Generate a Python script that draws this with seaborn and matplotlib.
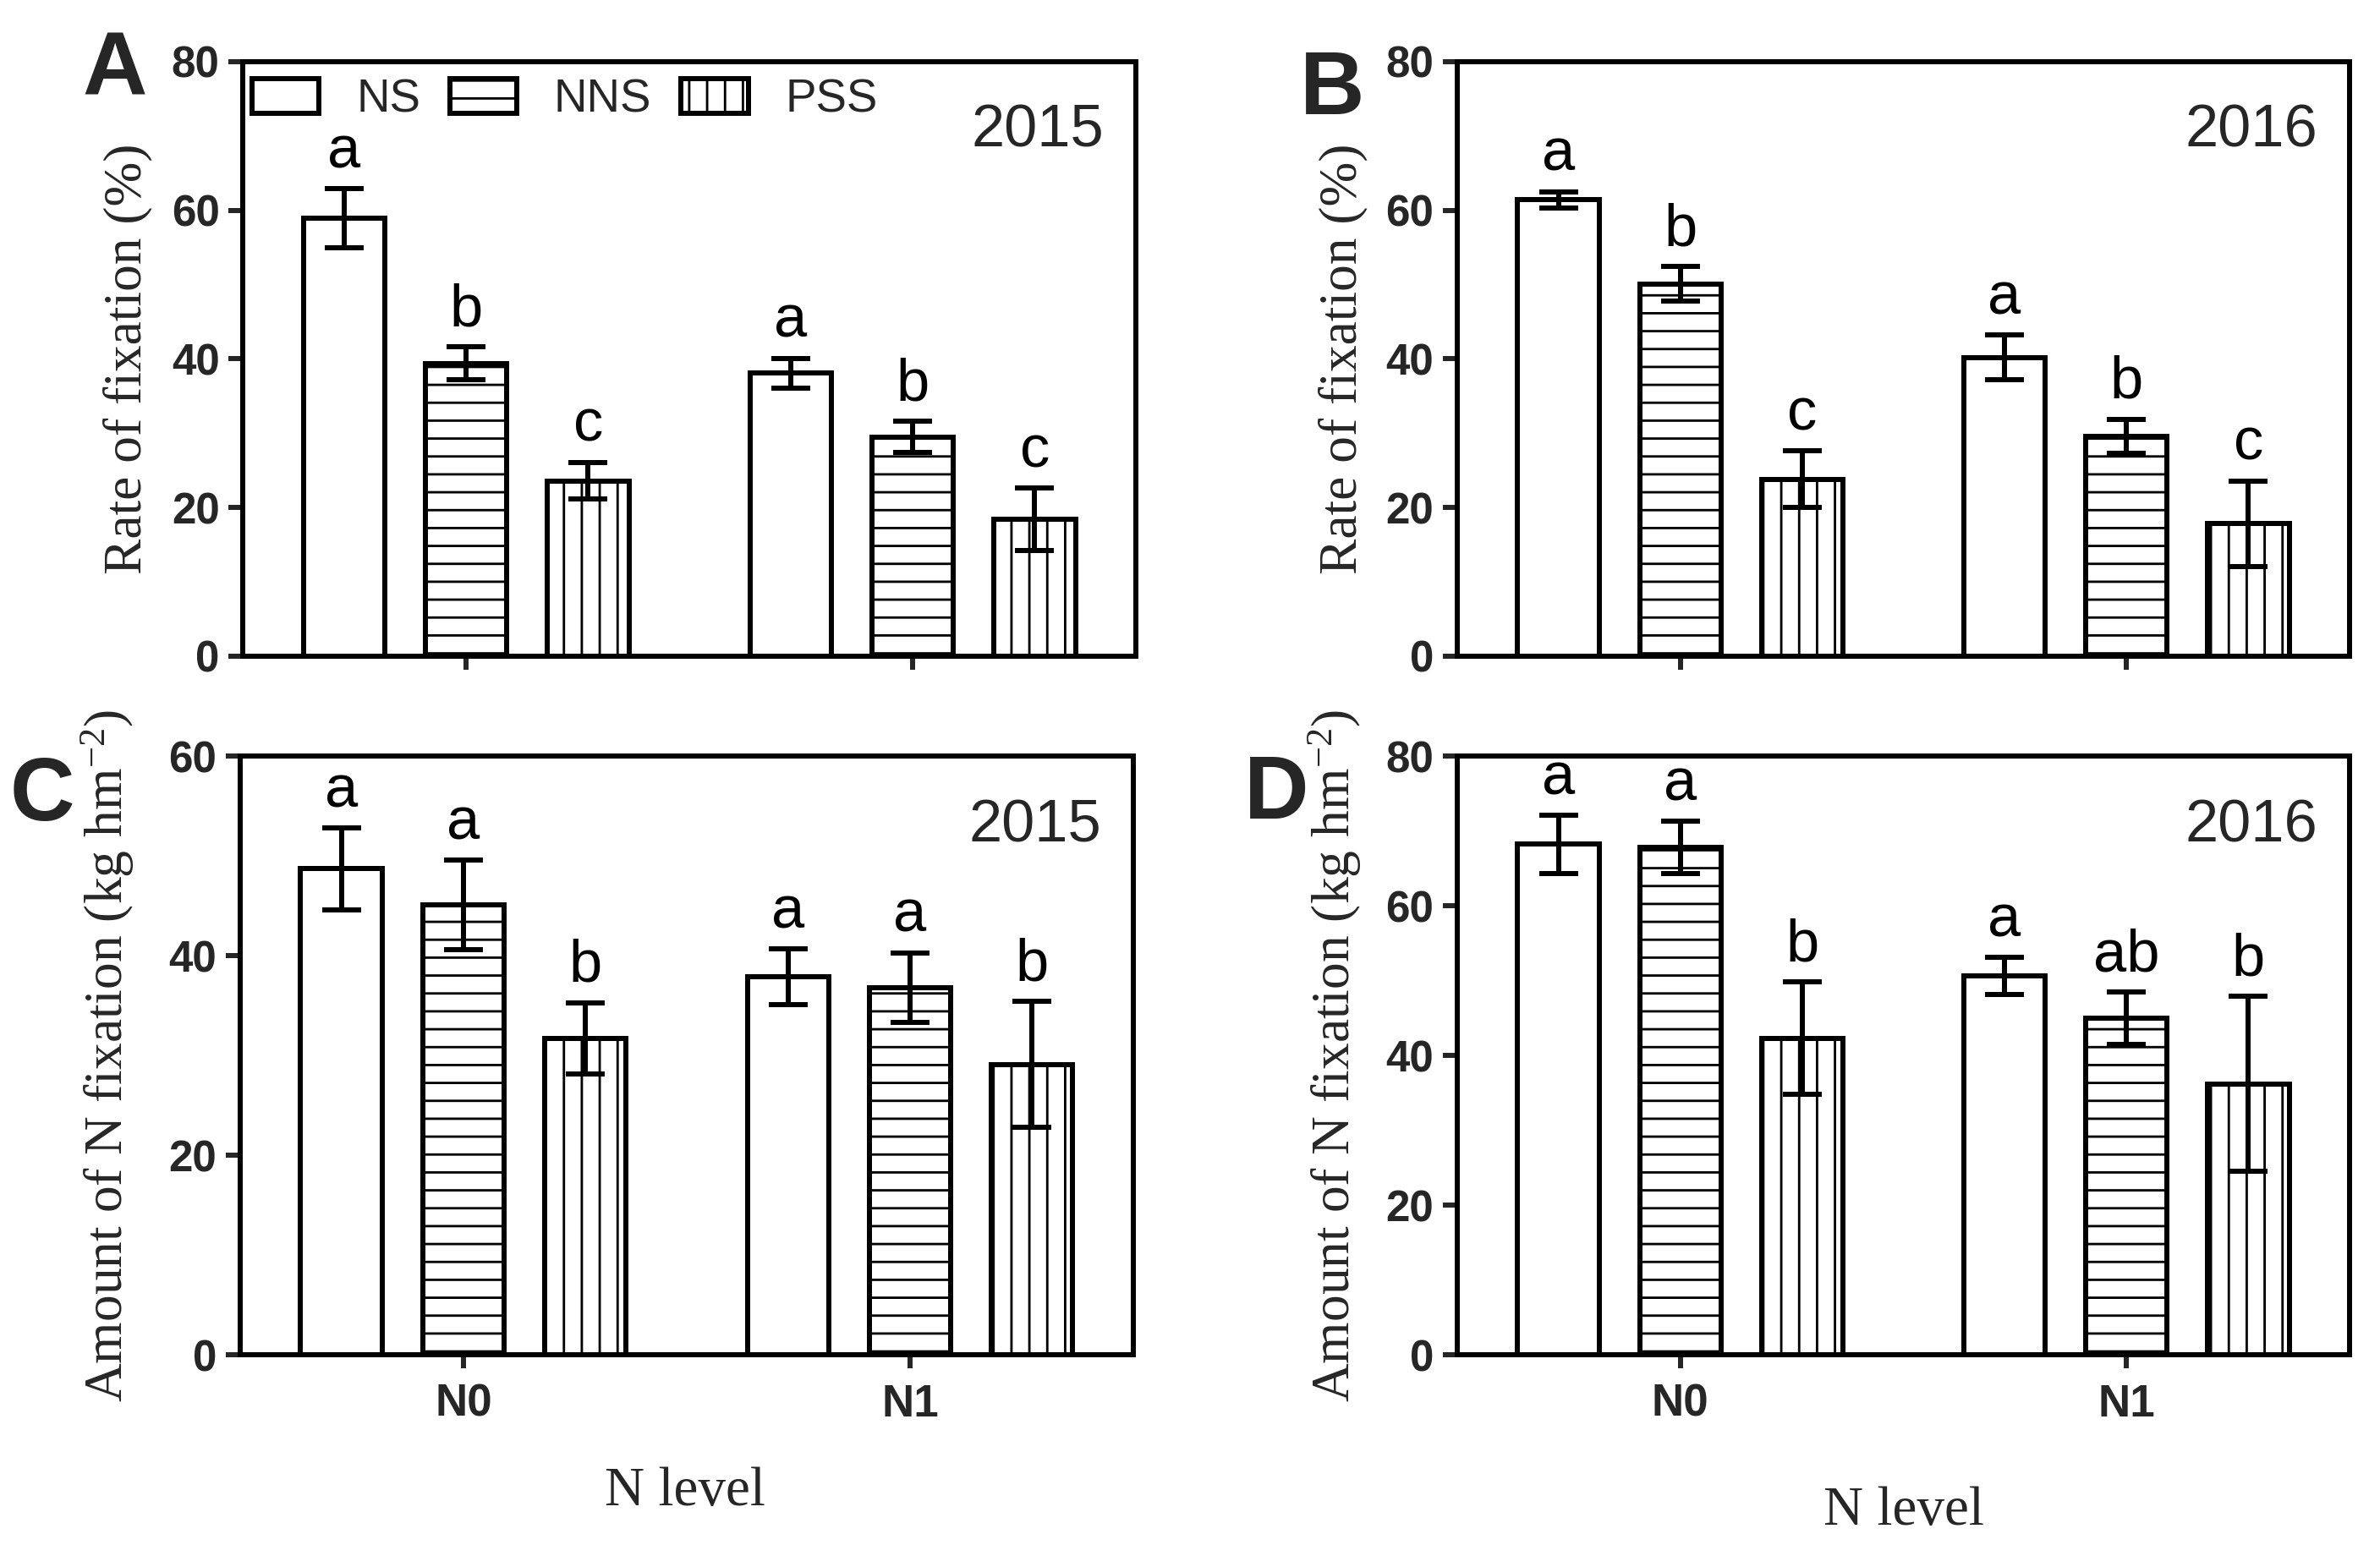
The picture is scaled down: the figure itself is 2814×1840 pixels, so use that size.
import matplotlib
matplotlib.use("Agg")
import matplotlib.pyplot as plt
import seaborn as sns
import pandas as pd
from matplotlib.patches import Patch
from matplotlib.container import BarContainer

# ---------------- data ----------------
n_levels = ["N0", "N1"]
treatments = ["NS", "NNS", "PSS"]
hatches = ["", "-", "|"]

# order inside each list: N0-NS, N0-NNS, N0-PSS, N1-NS, N1-NNS, N1-PSS
rate_2015 = [58.9, 39.4, 23.6, 38.1, 29.5, 18.4]
rate_2015_err = [4.0, 2.2, 2.5, 2.0, 2.1, 4.2]
rate_2015_sig = ["a", "b", "c", "a", "b", "c"]

rate_2016 = [61.4, 50.1, 23.8, 40.2, 29.6, 17.8]
rate_2016_err = [1.1, 2.3, 3.8, 3.0, 2.3, 5.8]
rate_2016_sig = ["a", "b", "c", "a", "b", "c"]

amount_2015 = [48.7, 45.1, 31.7, 37.9, 36.8, 29.1]
amount_2015_err = [4.1, 4.5, 3.6, 2.8, 3.5, 6.3]
amount_2015_sig = ["a", "a", "b", "a", "a", "b"]

amount_2016 = [68.2, 67.8, 42.3, 50.6, 45.0, 36.2]
amount_2016_err = [3.9, 3.5, 7.5, 2.5, 3.5, 11.7]
amount_2016_sig = ["a", "a", "b", "a", "ab", "b"]

panels = [
    dict(letter="A", year="2015", vals=rate_2015, errs=rate_2015_err, sig=rate_2015_sig,
         ylabel="Rate of fixation (%)", ymax=80, xlabels=False),
    dict(letter="B", year="2016", vals=rate_2016, errs=rate_2016_err, sig=rate_2016_sig,
         ylabel="Rate of fixation (%)", ymax=80, xlabels=False),
    dict(letter="C", year="2015", vals=amount_2015, errs=amount_2015_err, sig=amount_2015_sig,
         ylabel="Amount of N fixation (kg hm$^{-2}$)", ymax=60, xlabels=True),
    dict(letter="D", year="2016", vals=amount_2016, errs=amount_2016_err, sig=amount_2016_sig,
         ylabel="Amount of N fixation (kg hm$^{-2}$)", ymax=80, xlabels=True),
]

# ---------------- style ----------------
sns.set_style("white")
plt.rcParams["font.family"] = ["Liberation Sans", "DejaVu Sans"]
plt.rcParams["mathtext.fontset"] = "custom"
plt.rcParams["mathtext.rm"] = "Liberation Serif"
plt.rcParams["mathtext.default"] = "regular"
plt.rcParams["hatch.linewidth"] = 1.6
plt.rcParams["hatch.color"] = "black"

DPI = 127
fig = plt.figure(figsize=(2814 / DPI, 1840 / DPI), dpi=DPI)
fig.patch.set_facecolor("white")

positions = [
    [0.1020, 0.5783, 0.3753, 0.3821],
    [0.6123, 0.5783, 0.3749, 0.3821],
    [0.1009, 0.1293, 0.3753, 0.3848],
    [0.6123, 0.1293, 0.3749, 0.3848],
]
letter_pos = [(0.0345, 0.9386), (0.5462, 0.9266), (0.004, 0.4730), (0.5227, 0.4740)]
ylabel_x = [-0.101, -0.100, -0.116, -0.105]

LW = 3.4
serif = ["Liberation Serif", "DejaVu Serif"]

for i, p in enumerate(panels):
    ax = fig.add_axes(positions[i])
    df = pd.DataFrame({
        "N level": [n for n in n_levels for _ in treatments],
        "Treatment": treatments * len(n_levels),
        "value": p["vals"],
        "err": p["errs"],
        "sig": p["sig"],
    })
    sns.barplot(data=df, x="N level", y="value", hue="Treatment",
                order=n_levels, hue_order=treatments,
                palette=["white"] * 3, edgecolor="black", linewidth=LW,
                width=0.82, gap=0.333, errorbar=None, legend=False,
                saturation=1, ax=ax)

    bar_conts = [c for c in ax.containers if isinstance(c, BarContainer)]
    for h_i, cont in enumerate(bar_conts):
        for n_i, bar in enumerate(cont.patches):
            bar.set_hatch(hatches[h_i])
            bar.set_edgecolor("black")
            bar.set_facecolor("white")
            row = df[(df["N level"] == n_levels[n_i]) & (df["Treatment"] == treatments[h_i])].iloc[0]
            xc = bar.get_x() + bar.get_width() / 2
            yv = bar.get_height()
            ax.errorbar([xc], [yv], yerr=[row["err"]], fmt="none", ecolor="black",
                        elinewidth=LW, capsize=13, capthick=LW, zorder=5)
            ax.annotate(row["sig"], (xc, yv + row["err"]), xytext=(0, 14),
                        textcoords="offset points", ha="center", va="baseline",
                        fontsize=40, color="black")

    ax.set_xlim(-0.5, 1.5)
    ax.set_ylim(0, p["ymax"])
    ax.set_yticks(list(range(0, p["ymax"] + 1, 20)))
    ax.set_yticklabels([str(v) for v in range(0, p["ymax"] + 1, 20)],
                       fontsize=29, fontweight="bold")
    ax.set_xticks([0, 1])
    if p["xlabels"]:
        ax.set_xticklabels(n_levels, fontsize=30, fontweight="bold")
    else:
        ax.set_xticklabels(["", ""])
    ax.tick_params(axis="y", direction="out", length=9.6, width=LW, pad=6, left=True)
    ax.tick_params(axis="x", direction="out", length=9.0, width=LW, pad=10, bottom=True)
    for s in ax.spines.values():
        s.set_visible(True)
        s.set_linewidth(LW)
        s.set_color("black")
    ax.set_xlabel("")
    ax.set_ylabel(p["ylabel"], fontsize=36, family=serif)
    ax.yaxis.set_label_coords(ylabel_x[i], 0.5)

    ax.text(0.964, 0.857, p["year"], transform=ax.transAxes, ha="right",
            va="baseline", fontsize=40)
    fig.text(letter_pos[i][0], letter_pos[i][1], p["letter"], ha="left",
             va="baseline", fontsize=60, fontweight="bold")

    if i == 0:
        handles = [Patch(facecolor="white", edgecolor="black", hatch=h,
                         linewidth=LW, joinstyle="round") for h in hatches]
        ax.legend(handles, treatments, loc="upper left", bbox_to_anchor=(0.0104, 0.972),
                  ncol=3, frameon=False, fontsize=31, handlelength=1.45,
                  handleheight=0.76, handletextpad=0.8, columnspacing=0.64,
                  borderaxespad=0, borderpad=0)

fig.text(0.288, 0.0326, "N level", ha="center", va="baseline", fontsize=37, family=serif)
fig.text(0.800, 0.0201, "N level", ha="center", va="baseline", fontsize=37, family=serif)

fig.savefig("out.png", dpi=DPI, facecolor="white")
